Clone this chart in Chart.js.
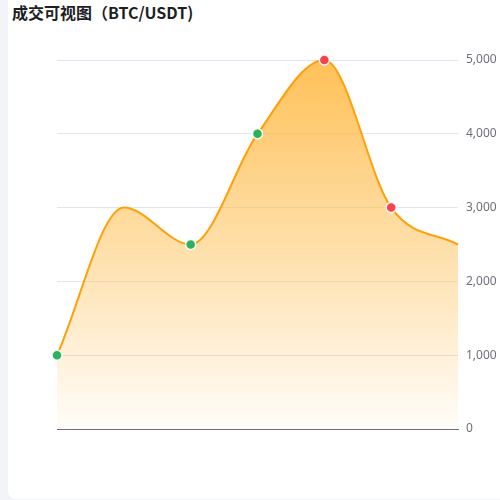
<!DOCTYPE html>
<html>
<head>
<meta charset="utf-8">
<script src="https://cdn.jsdelivr.net/npm/chart.js@4.4.0/dist/chart.umd.min.js"></script>
<style>
  html, body { margin: 0; padding: 0; width: 500px; height: 500px; overflow: hidden; background: #f3f4f8; }
  .card { position: absolute; left: 8px; top: -10px; right: -10px; bottom: 1px; background: #fff; border-radius: 8px; }
  .title { position: absolute; left: 12px; top: 2px; font: bold 16px "Noto Sans CJK SC", "Noto Sans", sans-serif; color: #1d1f24; line-height: 20px; }
  #wrap { position: absolute; left: 0; top: 0; width: 500px; height: 500px; }
</style>
</head>
<body>
<div class="card"></div>
<div class="title">成交可视图（BTC/USDT)</div>
<div id="wrap"><canvas id="myChart"></canvas></div>
<script>
// 数据
const labels = ['1', '2', '3', '4', '5', '6', '7'];
const values = [1000, 3000, 2500, 4000, 5000, 3000, 2500];
const pointColors = ['#2eb15c', '#2eb15c', '#2eb15c', '#2eb15c', '#f7434d', '#f7434d', '#f7434d'];
const pointSizes = [5, 0, 5, 5, 5, 5, 0];
const yTicks = [0, 1000, 2000, 3000, 4000, 5000];

const ctx = document.getElementById('myChart').getContext('2d');
const myChart = new Chart(ctx, {
    type: 'line',
    data: {
        labels: labels,
        datasets: [{
            data: values,
            borderColor: '#ffa00a',
            borderWidth: 2,
            cubicInterpolationMode: 'monotone',
            fill: true,
            clip: 10,
            backgroundColor: (context) => {
                const area = context.chart.chartArea;
                if (!area) return 'rgba(255,190,80,0.5)';
                const g = context.chart.ctx.createLinearGradient(0, area.top, 0, area.bottom);
                g.addColorStop(0, 'rgba(255,186,70,0.9)');
                g.addColorStop(1, 'rgba(255,186,70,0.03)');
                return g;
            },
            pointBackgroundColor: pointColors,
            pointBorderColor: 'rgba(255,255,255,0.9)',
            pointBorderWidth: 1.5,
            pointRadius: pointSizes,
            pointHoverRadius: pointSizes
        }]
    },
    options: {
        responsive: true,
        maintainAspectRatio: false,
        animation: false,
        layout: { padding: { left: 57, top: 60, right: 0, bottom: 71 } },
        plugins: { legend: { display: false }, tooltip: { enabled: false } },
        scales: {
            x: {
                type: 'category',
                offset: false,
                grid: { display: false, drawTicks: false },
                border: { display: true, color: '#6e7079', width: 1 },
                ticks: { display: false },
                afterFit: (scale) => { scale.height = 0; }
            },
            y: {
                position: 'right',
                min: 0,
                max: 5000,
                afterBuildTicks: (scale) => { scale.ticks = yTicks.map(v => ({ value: v })); },
                grid: { color: '#e0e6f1', drawTicks: false },
                border: { display: false },
                ticks: {
                    padding: 8,
                    color: '#6e7079',
                    font: { size: 12, family: 'Noto Sans, sans-serif' },
                    callback: (v) => v.toLocaleString('en-US')
                },
                afterFit: (scale) => { scale.width = 42; }
            }
        }
    }
});
</script>
</body>
</html>
